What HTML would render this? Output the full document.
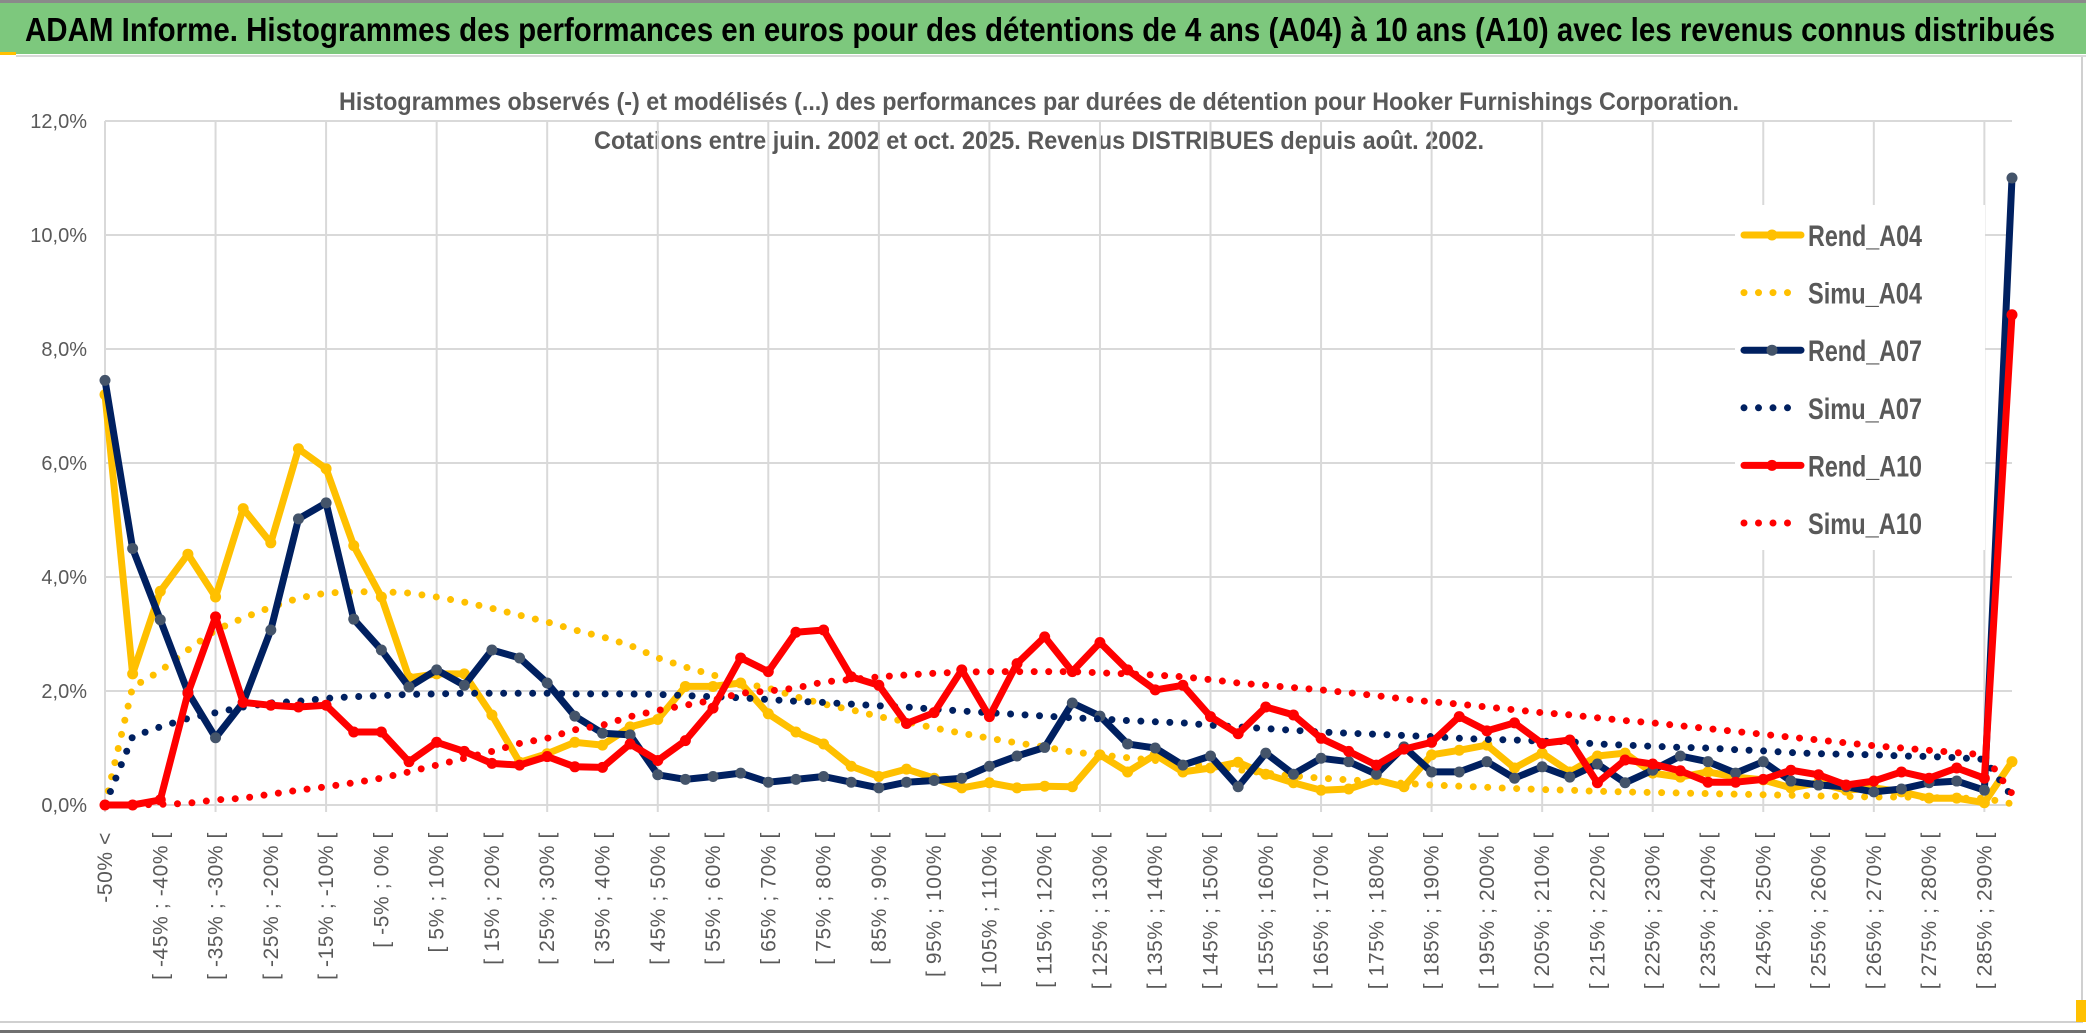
<!DOCTYPE html>
<html><head><meta charset="utf-8">
<style>
html,body{margin:0;padding:0;background:#fff;}
svg{display:block;}
text{font-family:"Liberation Sans",sans-serif;}
</style></head>
<body>
<svg id="chart" width="2086" height="1033" viewBox="0 0 2086 1033" xmlns="http://www.w3.org/2000/svg">
  <rect x="0" y="0" width="2086" height="1033" fill="#ffffff"/>
  <rect x="0" y="0" width="2086" height="3" fill="#8a8a8a"/>
  <rect x="0" y="3" width="2086" height="51" fill="#7dc87d"/>
  <rect x="0" y="52" width="16" height="3" fill="#ffc000"/>
  <rect x="16" y="55" width="2070" height="2" fill="#d9d9d9"/>
  <text x="25" y="41" font-size="33" font-weight="bold" fill="#000" textLength="2030" lengthAdjust="spacingAndGlyphs">ADAM Informe. Histogrammes des performances en euros pour des détentions de 4 ans (A04) à 10 ans (A10) avec les revenus connus distribués</text>
  <rect x="2081" y="57" width="2" height="966" fill="#d0d0d0"/>
  <rect x="0" y="1021" width="2083" height="2" fill="#d0d0d0"/>
  <rect x="0" y="1030" width="2086" height="3" fill="#707070"/>
  <rect x="2076" y="1000" width="10" height="22" fill="#ffc000"/>
  <text x="339" y="110" font-size="25" font-weight="bold" fill="#595959" textLength="1400" lengthAdjust="spacingAndGlyphs">Histogrammes observés (-) et modélisés (...) des performances par durées de détention pour Hooker Furnishings Corporation.</text>
  <text x="594" y="149" font-size="25" font-weight="bold" fill="#595959" textLength="890" lengthAdjust="spacingAndGlyphs">Cotations entre juin. 2002 et oct. 2025. Revenus DISTRIBUES depuis août. 2002.</text>
  <g id="grid"></g>
  <g id="yaxis"></g>
  <g id="xaxis"></g>
  <g id="series"></g>
  <g id="legend"></g>
</svg>
<script>
const yTicks = [0, 2, 4, 6, 8, 10, 12];
const rendA04 = [7.2,2.3,3.75,4.4,3.65,5.2,4.6,6.25,5.9,4.55,
 3.65,2.23,2.3,2.3,1.58,0.75,0.9,1.1,1.05,1.37,
 1.5,2.08,2.08,2.14,1.6,1.28,1.07,0.68,0.5,0.63,
 0.47,0.3,0.39,0.3,0.33,0.32,0.88,0.58,0.88,0.58,
 0.65,0.75,0.54,0.39,0.26,0.28,0.44,0.32,0.88,0.96,
 1.05,0.65,0.91,0.58,0.86,0.91,0.56,0.49,0.58,0.49,
 0.44,0.3,0.39,0.26,0.3,0.23,0.12,0.12,0.04,0.76];
const simuA04 = [0,2.07,2.35,2.72,3.07,3.28,3.47,3.63,3.72,3.74,
 3.74,3.72,3.65,3.56,3.45,3.33,3.21,3.07,2.95,2.8,
 2.58,2.42,2.28,2.14,2.05,1.9,1.77,1.67,1.55,1.46,
 1.35,1.26,1.17,1.09,1.02,0.93,0.88,0.83,0.78,0.73,
 0.68,0.62,0.56,0.51,0.47,0.44,0.41,0.38,0.35,0.33,
 0.31,0.29,0.27,0.26,0.24,0.23,0.22,0.21,0.2,0.19,
 0.18,0.17,0.16,0.15,0.14,0.14,0.13,0.12,0.12,0.02];
const rendA07 = [7.45,4.5,3.25,1.98,1.18,1.8,3.07,5.02,5.3,3.26,
 2.72,2.07,2.37,2.1,2.72,2.58,2.14,1.56,1.26,1.23,
 0.53,0.45,0.5,0.56,0.4,0.45,0.5,0.4,0.3,0.4,
 0.43,0.47,0.68,0.86,1.01,1.79,1.56,1.07,1.0,0.7,
 0.86,0.32,0.91,0.54,0.82,0.76,0.54,1.02,0.58,0.58,
 0.76,0.47,0.67,0.49,0.72,0.39,0.61,0.86,0.76,0.56,
 0.76,0.42,0.35,0.32,0.23,0.28,0.39,0.42,0.26,11.0];
const simuA07 = [0,1.2,1.37,1.52,1.62,1.72,1.79,1.82,1.87,1.9,
 1.92,1.94,1.95,1.96,1.96,1.96,1.96,1.95,1.95,1.95,
 1.94,1.92,1.9,1.88,1.85,1.82,1.8,1.77,1.74,1.72,
 1.68,1.65,1.62,1.59,1.56,1.53,1.51,1.48,1.46,1.44,
 1.4,1.37,1.34,1.31,1.28,1.26,1.24,1.22,1.2,1.17,
 1.15,1.14,1.12,1.11,1.07,1.05,1.03,1.01,1.0,0.97,
 0.95,0.92,0.9,0.89,0.88,0.86,0.85,0.83,0.8,0.15];
const rendA10 = [0,0,0.09,1.96,3.3,1.8,1.75,1.72,1.75,1.28,
 1.28,0.76,1.1,0.94,0.73,0.7,0.85,0.67,0.66,1.07,
 0.78,1.13,1.7,2.58,2.34,3.03,3.07,2.25,2.1,1.43,
 1.62,2.37,1.55,2.48,2.95,2.34,2.85,2.37,2.02,2.1,
 1.55,1.25,1.72,1.58,1.17,0.94,0.7,0.98,1.1,1.55,
 1.3,1.44,1.08,1.14,0.39,0.79,0.72,0.6,0.4,0.4,
 0.45,0.61,0.53,0.35,0.42,0.58,0.47,0.65,0.47,8.6];
const simuA10 = [0,0,0.01,0.03,0.09,0.12,0.19,0.26,0.32,0.39,
 0.47,0.58,0.7,0.82,0.94,1.08,1.17,1.32,1.4,1.55,
 1.66,1.75,1.84,1.96,2.0,2.05,2.16,2.2,2.25,2.28,
 2.31,2.33,2.34,2.34,2.34,2.34,2.32,2.3,2.28,2.25,
 2.2,2.14,2.1,2.06,2.02,1.97,1.92,1.86,1.81,1.77,
 1.72,1.67,1.62,1.58,1.53,1.48,1.44,1.39,1.34,1.29,
 1.24,1.19,1.14,1.09,1.04,1.0,0.96,0.92,0.88,0.2];
const seriesNames = ["Rend_A04","Simu_A04","Rend_A07","Simu_A07","Rend_A10","Simu_A10"];

const NS = "http://www.w3.org/2000/svg";
const N = rendA04.length;
const X0 = 105, X1 = 2012, Y0 = 805, Y1 = 121, YMAX = 12;
function xPos(i){ return X0 + i * (X1 - X0) / (N - 1); }
function yPos(v){ return Y0 - v / YMAX * (Y0 - Y1); }
function mk(tag, attrs, parent){ const e = document.createElementNS(NS, tag); for (const k in attrs) e.setAttribute(k, attrs[k]); parent.appendChild(e); return e; }
function catLabel(i){
  if (i === 0) return "-50% <";
  const lo = -50 + 5 * (i - 1), hi = lo + 5;
  return "[ " + lo + "% ; " + hi + "% [";
}

const grid = document.getElementById('grid');
yTicks.forEach(t => {
  const l = mk('line', {x1: X0, x2: X1, y1: yPos(t), y2: yPos(t), stroke: '#d9d9d9', 'stroke-width': 2}, grid);
  
  
});
for (let i = 0; i < N; i += 4) {
  const l = mk('line', {x1: xPos(i), x2: xPos(i), y1: Y1, y2: Y0 + 7, stroke: '#d9d9d9', 'stroke-width': 2}, grid);
  
  
}

const yaxis = document.getElementById('yaxis');
yTicks.forEach(t => {
  const tx = mk('text', {x: 87, y: yPos(t) + 7, 'font-size': 20, fill: '#595959', 'text-anchor': 'end'}, yaxis);
  tx.textContent = t.toFixed(1).replace('.', ',') + '%';
  
  
});

const xaxis = document.getElementById('xaxis');
for (let i = 0; i < N - 1; i += 2) {
  const x = xPos(i) + 7, y = 832;
  const tx = mk('text', {x: x, y: y, 'font-size': 21, fill: '#595959', 'text-anchor': 'end', 'letter-spacing': '0.6', transform: 'rotate(-90 ' + x + ' ' + y + ')'}, xaxis);
  tx.textContent = catLabel(i);
  
  
}

const series = document.getElementById('series');
function drawSolid(vals, color, markerColor, name){
  const g = mk('g', {}, series);
  
  
  const pts = vals.map((v, i) => xPos(i).toFixed(1) + ',' + yPos(v).toFixed(1)).join(' ');
  const pl = mk('polyline', {points: pts, fill: 'none', stroke: color, 'stroke-width': 7, 'stroke-linejoin': 'round', 'stroke-linecap': 'round'}, g);
  
  
  vals.forEach((v, i) => {
    const c = mk('circle', {cx: xPos(i), cy: yPos(v), r: 5.5, fill: markerColor}, g);
    
    
  });
}
function drawDotted(vals, color, name){
  const pts = vals.map((v, i) => xPos(i).toFixed(1) + ',' + yPos(v).toFixed(1)).join(' ');
  const pl = mk('polyline', {points: pts, fill: 'none', stroke: color, 'stroke-width': 7, 'stroke-linecap': 'round', 'stroke-linejoin': 'round', 'stroke-dasharray': '0 14.5'}, series);
  
  
}
drawSolid(rendA04, '#ffc000', '#ffc000', 'rend-a04');
drawDotted(simuA04, '#ffc000', 'simu-a04');
drawSolid(rendA07, '#002060', '#44546a', 'rend-a07');
drawDotted(simuA07, '#002060', 'simu-a07');
drawSolid(rendA10, '#ff0000', '#ff0000', 'rend-a10');
drawDotted(simuA10, '#ff0000', 'simu-a10');

const legend = document.getElementById('legend');
const lb = mk('rect', {x: 1735, y: 205, width: 250, height: 345, fill: '#fff'}, legend);


const legColors = ['#ffc000','#ffc000','#002060','#002060','#ff0000','#ff0000'];
const legMarker = ['#ffc000','#ffc000','#44546a','#44546a','#ff0000','#ff0000'];
seriesNames.forEach((nm, k) => {
  const cy = 235 + k * 57.6;
  const g = mk('g', {}, legend);
  
  
  if (k % 2 === 0) {
    mk('line', {x1: 1744, x2: 1801, y1: cy, y2: cy, stroke: legColors[k], 'stroke-width': 7, 'stroke-linecap': 'round'}, g);
    mk('circle', {cx: 1772, cy: cy, r: 5.5, fill: legMarker[k]}, g);
  } else {
    mk('line', {x1: 1744, x2: 1802, y1: cy, y2: cy, stroke: legColors[k], 'stroke-width': 7, 'stroke-linecap': 'round', 'stroke-dasharray': '0 14.5'}, g);
  }
  const t = mk('text', {x: 1808, y: cy + 11, 'font-size': 30, 'font-weight': 'bold', fill: '#595959', textLength: 114, lengthAdjust: 'spacingAndGlyphs'}, g);
  t.textContent = nm;
});
</script>
</body></html>
